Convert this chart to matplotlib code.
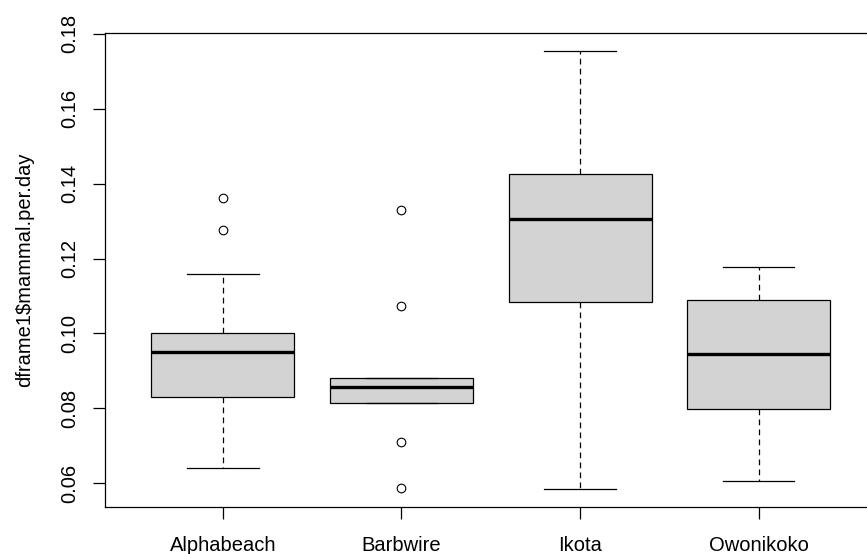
import matplotlib
matplotlib.use("Agg")
import matplotlib.pyplot as plt

plt.rcParams['font.family'] = ['Liberation Sans', 'DejaVu Sans']

# Per-site summary of mammal detections per day
sites = ["Alphabeach", "Barbwire", "Ikota", "Owonikoko"]
whisker_low = [0.0641, 0.0814, 0.0585, 0.0605]
q1 = [0.0831, 0.0814, 0.1085, 0.0798]
medians = [0.0950, 0.0856, 0.1306, 0.0945]
q3 = [0.1002, 0.0880, 0.1427, 0.1089]
whisker_high = [0.1159, 0.0880, 0.1754, 0.1177]
outliers = [
    [0.1361, 0.1277],
    [0.1330, 0.1073, 0.0709, 0.0588],
    [],
    [],
]
y_ticks = [0.06, 0.08, 0.10, 0.12, 0.14, 0.16, 0.18]

stats = []
for i, name in enumerate(sites):
    stats.append({
        "label": name,
        "whislo": whisker_low[i],
        "q1": q1[i],
        "med": medians[i],
        "q3": q3[i],
        "whishi": whisker_high[i],
        "fliers": outliers[i],
    })

fig = plt.figure(figsize=(8.67, 5.54), dpi=100)
# frame runs past the right edge of the canvas
ax = fig.add_axes([105 / 867, (554 - 507.3) / 554, 771.6 / 867, 474.6 / 554])

ax.bxp(
    stats,
    positions=range(1, len(sites) + 1),
    widths=0.8,
    capwidths=0.4,
    patch_artist=True,
    boxprops=dict(facecolor="#d3d3d3", edgecolor="black", linewidth=0.9),
    medianprops=dict(color="black", linewidth=2.4, solid_capstyle="butt"),
    whiskerprops=dict(color="black", linewidth=0.9, linestyle=(0, (4.6, 3.4))),
    capprops=dict(color="black", linewidth=0.9),
    flierprops=dict(marker="o", markerfacecolor="none", markeredgecolor="black",
                    markersize=6.2, markeredgewidth=0.8),
)

ax.set_xlim(0.34, 4.66)
ax.set_ylim(0.0536, 0.1803)
ax.set_yticks(y_ticks)
ax.set_yticklabels([f"{v:.2f}" for v in y_ticks], rotation=90, va="center")
ax.set_xticks(range(1, len(sites) + 1))
ax.set_xticklabels(sites)

for spine in ax.spines.values():
    spine.set_linewidth(0.9)
ax.tick_params(axis="both", length=8.6, width=0.9, labelsize=14.5, color="black")
ax.tick_params(axis="x", pad=12)
ax.tick_params(axis="y", pad=10)

fig.text(25 / 867, 1 - 270 / 554, "dframe1$mammal.per.day", rotation=90,
         ha="center", va="center", fontsize=14.5)

fig.savefig("out.png", dpi=100)
